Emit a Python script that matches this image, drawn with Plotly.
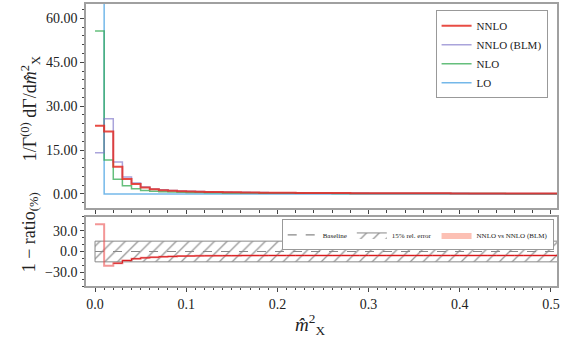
import numpy as np
import plotly.graph_objects as go

# bin edges of the m_X^2 histogram (width 0.01)
bin_edges = np.round(np.arange(0.0, 0.515, 0.01), 2)

nnlo = [23.3, 21.3, 9.3, 5.1, 3.4, 2.2, 1.6, 1.3, 1.1, 0.95,
        0.85, 0.77, 0.70, 0.64, 0.59, 0.55, 0.51, 0.48, 0.45, 0.42,
        0.40, 0.38, 0.36, 0.34, 0.33, 0.31, 0.30, 0.29, 0.28, 0.27,
        0.26, 0.25, 0.24, 0.235, 0.23, 0.22, 0.215, 0.21, 0.20, 0.195,
        0.19, 0.185, 0.18, 0.175, 0.17, 0.165, 0.16, 0.155, 0.15, 0.145,
        0.14]
nnlo_blm = [14.1, 25.7, 10.9, 5.76, 3.76, 2.40, 1.73, 1.40, 1.18, 1.01,
            0.905, 0.82, 0.745, 0.68, 0.625, 0.585, 0.54, 0.51, 0.48, 0.445,
            0.425, 0.405, 0.38, 0.36, 0.35, 0.33, 0.32, 0.31, 0.295, 0.285,
            0.275, 0.265, 0.255, 0.25, 0.245, 0.235, 0.23, 0.225, 0.21, 0.205,
            0.20, 0.195, 0.19, 0.185, 0.18, 0.175, 0.17, 0.165, 0.16, 0.155,
            0.15]
nlo = [55.7, 11.6, 5.0, 2.8, 1.8, 1.15, 0.90, 0.76, 0.65, 0.57,
       0.51, 0.46, 0.42, 0.38, 0.35, 0.33, 0.31, 0.29, 0.27, 0.26,
       0.25, 0.24, 0.23, 0.22, 0.21, 0.20, 0.195, 0.19, 0.18, 0.175,
       0.17, 0.165, 0.16, 0.155, 0.15, 0.145, 0.14, 0.135, 0.13, 0.128,
       0.125, 0.12, 0.118, 0.115, 0.112, 0.11, 0.107, 0.105, 0.102, 0.10,
       0.098]
lo = [100.0] + [0.0] * 50

# 1 - ratio (NNLO (BLM) / NNLO), in percent
ratio_pct = [39.5, -20.5, -17.0, -13.0, -10.5, -9.2, -8.3, -7.6, -7.1, -6.7,
             -6.5, -6.3, -6.2, -6.1, -6.0, -6.0, -5.9, -5.9, -5.9, -5.8,
             -5.8, -5.8, -5.8, -5.8, -5.8, -5.8, -5.8, -5.8, -5.8, -5.8,
             -5.8, -5.8, -5.8, -5.8, -5.8, -5.8, -5.8, -5.8, -5.8, -5.8,
             -5.8, -5.8, -5.8, -5.8, -5.8, -5.8, -5.8, -5.8, -5.8, -5.8,
             -5.8]
rel_error = 15.0

FONT = "Liberation Serif"


def step_xy(values):
    # post-step: each value held across its bin, closed at the last edge
    return list(bin_edges), list(values) + [values[-1]]


fig = go.Figure()

# --- top panel: distributions ---
series = [
    ("LO", lo, "rgba(70,160,225,0.75)", 1.5, 4),
    ("NLO", nlo, "rgba(50,170,80,0.75)", 1.5, 3),
    ("NNLO (BLM)", nnlo_blm, "rgba(125,115,200,0.65)", 1.5, 2),
    ("NNLO", nnlo, "rgba(228,45,35,0.85)", 2, 1),
]
for name, vals, col, w, rank in series:
    x, y = step_xy(vals)
    fig.add_trace(go.Scatter(
        x=x, y=y, mode="lines", line=dict(color=col, width=w, shape="hv"),
        name=name, legendrank=rank, xaxis="x", yaxis="y", legend="legend",
    ))

# --- bottom panel: ratio ---
x_band = [bin_edges[0], bin_edges[-1], bin_edges[-1], bin_edges[0], bin_edges[0]]
y_band = [-rel_error, -rel_error, rel_error, rel_error, -rel_error]
fig.add_trace(go.Scatter(
    x=x_band, y=y_band, mode="lines", fill="toself",
    fillcolor="rgba(255,255,255,0)",
    fillpattern=dict(shape="/", fgcolor="#333", bgcolor="white", size=9, solidity=0.15),
    line=dict(color="#888", width=1),
    name="15% rel. error", legendrank=2,
    xaxis="x2", yaxis="y2", legend="legend2",
))
fig.add_trace(go.Scatter(
    x=[bin_edges[0], bin_edges[-1]], y=[0, 0], mode="lines",
    line=dict(color="#888", width=1.2, dash="dash"),
    name="Baseline", legendrank=1, xaxis="x2", yaxis="y2", legend="legend2",
))
xr, yr = step_xy(ratio_pct)
fig.add_trace(go.Scatter(
    x=xr, y=yr, mode="lines", line=dict(color="rgba(235,80,80,0.6)", width=2, shape="hv"),
    showlegend=False, xaxis="x2", yaxis="y2",
))
fig.add_trace(go.Scatter(
    x=xr[2:], y=yr[2:], mode="lines", line=dict(color="#d7191c", width=1, shape="hv"),
    showlegend=False, xaxis="x2", yaxis="y2",
))
# legend entry for the ratio band
fig.add_trace(go.Scatter(
    x=[None, None, None], y=[None, None, None], mode="lines", fill="toself",
    fillcolor="rgba(250,150,130,0.6)", line=dict(width=0),
    name="NNLO vs NNLO (BLM)", legendrank=3,
    xaxis="x2", yaxis="y2", legend="legend2",
))

x_range = [-0.0099, 0.5066]
spine = dict(showline=True, linecolor="#a0a0a0", linewidth=1.5, mirror=True,
             showgrid=False, zeroline=False, ticks="outside", tickcolor="#444",
             ticklen=4, tickwidth=1)

fig.update_layout(
    width=563, height=338,
    margin=dict(l=86, r=6, t=4, b=52, autoexpand=False),
    paper_bgcolor="white", plot_bgcolor="white",
    font=dict(family=FONT, size=14, color="#222"),
    xaxis=dict(domain=[0, 1], anchor="y", range=x_range, showticklabels=False,
               dtick=0.1, tick0=0,
               minor=dict(ticks="outside", dtick=0.02, ticklen=3, tickcolor="#444"),
               **spine),
    yaxis=dict(domain=[0.2766, 1.0], anchor="x", range=[-4.8, 64.9],
               dtick=15, tick0=0, tickformat=".2f",
               minor=dict(ticks="outside", dtick=3, ticklen=2, tickcolor="#444"),
               **spine),
    xaxis2=dict(domain=[0, 1], anchor="y2", matches="x", range=x_range,
                dtick=0.1, tick0=0, tickformat=".1f",
                minor=dict(ticks="outside", dtick=0.01, ticklen=2, tickcolor="#444"),
                **spine),
    yaxis2=dict(domain=[0.0, 0.2447], anchor="x2", range=[-50, 50],
                tickvals=[-30, 0, 30], tickformat=".1f",
                minor=dict(ticks="outside", dtick=10, ticklen=2, tickcolor="#444"),
                **spine),
    legend=dict(x=0.98, y=0.978, xanchor="right", yanchor="top",
                bgcolor="white", bordercolor="#999", borderwidth=1,
                font=dict(family=FONT, size=11), itemwidth=30,
                tracegroupgap=0),
    legend2=dict(x=0.993, y=0.236, xanchor="right", yanchor="top",
                 orientation="h", bgcolor="white", bordercolor="#999",
                 borderwidth=1, font=dict(family=FONT, size=7), itemwidth=30),
    annotations=[
        dict(text="1/Γ<sup>(0)</sup> dΓ/d<i>m̂</i><sup>2</sup><sub>X</sub>",
             xref="paper", yref="paper", x=-0.119, y=0.63, textangle=-90,
             showarrow=False, font=dict(family=FONT, size=18, color="#222"),
             xanchor="center", yanchor="middle"),
        dict(text="1 − ratio<sub>(%)</sub>",
             xref="paper", yref="paper", x=-0.119, y=0.19, textangle=-90,
             showarrow=False, font=dict(family=FONT, size=18, color="#222"),
             xanchor="center", yanchor="middle"),
        dict(text="<i>m̂</i><sup>2</sup><sub>X</sub>",
             xref="paper", yref="paper", x=0.4756, y=-0.135,
             showarrow=False, font=dict(family=FONT, size=19, color="#222"),
             xanchor="center", yanchor="middle"),
    ],
)

# drop the page's default body margin so the figure sits at the window's corner
fig.write_html("out.html", config={"displayModeBar": False},
               post_script="document.body.style.margin='0px';")
